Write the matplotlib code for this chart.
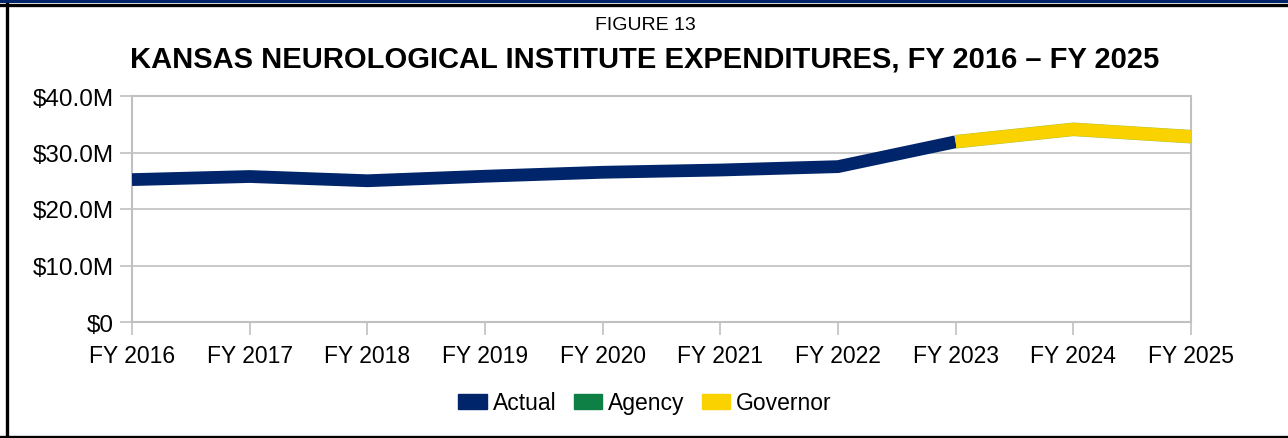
import matplotlib.pyplot as plt
from matplotlib.patches import Patch, Rectangle
from matplotlib.lines import Line2D

plt.rcParams['font.family'] = ['Liberation Sans', 'DejaVu Sans']

# --- Datos (millones de dólares) ---
years = ['FY 2016', 'FY 2017', 'FY 2018', 'FY 2019', 'FY 2020',
         'FY 2021', 'FY 2022', 'FY 2023', 'FY 2024', 'FY 2025']
actual = [25.2, 25.75, 25.0, 25.8, 26.5, 26.9, 27.5, 31.9]
agency = [31.9, 34.1, 32.8]
governor = [31.9, 34.1, 32.8]
y_ticks = [0, 10, 20, 30, 40]
y_labels = ['$0', '$10.0M', '$20.0M', '$30.0M', '$40.0M']

NAVY = '#00256a'
GREEN = '#0e7f45'
YELLOW = '#f9d200'
GRIS = '#c0c0c0'

fig = plt.figure(figsize=(12.88, 4.39), dpi=100)
ax = fig.add_axes([132 / 1288, 1 - 323 / 439, (1191 - 132) / 1288, (323 - 97) / 439])

x_all = list(range(len(years)))
lw = 9.2
ax.plot(x_all[:len(actual)], actual, color=NAVY, lw=lw, solid_capstyle='butt', solid_joinstyle='miter', zorder=3)
ax.plot(x_all[len(actual) - 1:], agency, color='#a9c23a', lw=lw + 0.6, solid_capstyle='butt', zorder=3)
ax.plot(x_all[len(actual) - 1:], governor, color=YELLOW, lw=lw, solid_capstyle='butt', solid_joinstyle='miter', zorder=4)

ax.set_xlim(0, len(years) - 1)
ax.set_ylim(0, 40)
ax.set_xticks(x_all)
ax.set_xticklabels(years, fontsize=16.5)
ax.set_yticks(y_ticks)
ax.set_yticklabels(y_labels, fontsize=17.5)
ax.grid(axis='y', color=GRIS, lw=1.2)
ax.set_axisbelow(True)
for s in ax.spines.values():
    s.set_color(GRIS)
    s.set_linewidth(1.5)
ax.tick_params(axis='both', length=9, width=1.2, color=GRIS)
ax.tick_params(axis='y', pad=4)
ax.tick_params(axis='x', pad=7)

# --- Títulos ---
fig.text(0.5008, 1 - 25 / 439, 'FIGURE 13', ha='center', va='center', fontsize=14)
fig.text(0.5008, 1 - 59 / 439, 'KANSAS NEUROLOGICAL INSTITUTE EXPENDITURES, FY 2016 \u2013 FY 2025',
         ha='center', va='center', fontsize=21, fontweight='bold')

# --- Leyenda ---
handles = [Patch(color=NAVY, label='Actual'),
           Patch(color=GREEN, label='Agency'),
           Patch(color=YELLOW, label='Governor')]
fig.legend(handles=handles, loc='center', bbox_to_anchor=(645 / 1288, 1 - 404 / 439), ncol=3,
           frameon=False, fontsize=16.5, handlelength=1.25, handleheight=0.58,
           handletextpad=0.25, columnspacing=0.75)

# --- Marco ---
fig.add_artist(Rectangle((0, 1 - 4 / 439), 1, 4 / 439, transform=fig.transFigure, color='#00256a', lw=0))
fig.add_artist(Line2D([0, 1], [1 - 5.5 / 439, 1 - 5.5 / 439], transform=fig.transFigure, color='black', lw=2.4))
fig.add_artist(Line2D([6.5 / 1288, 6.5 / 1288], [0, 1 - 5 / 439], transform=fig.transFigure, color='black', lw=2.4))
fig.add_artist(Line2D([0, 1], [1.5 / 439, 1.5 / 439], transform=fig.transFigure, color='black', lw=2.4))

fig.savefig('out.png', dpi=100)
